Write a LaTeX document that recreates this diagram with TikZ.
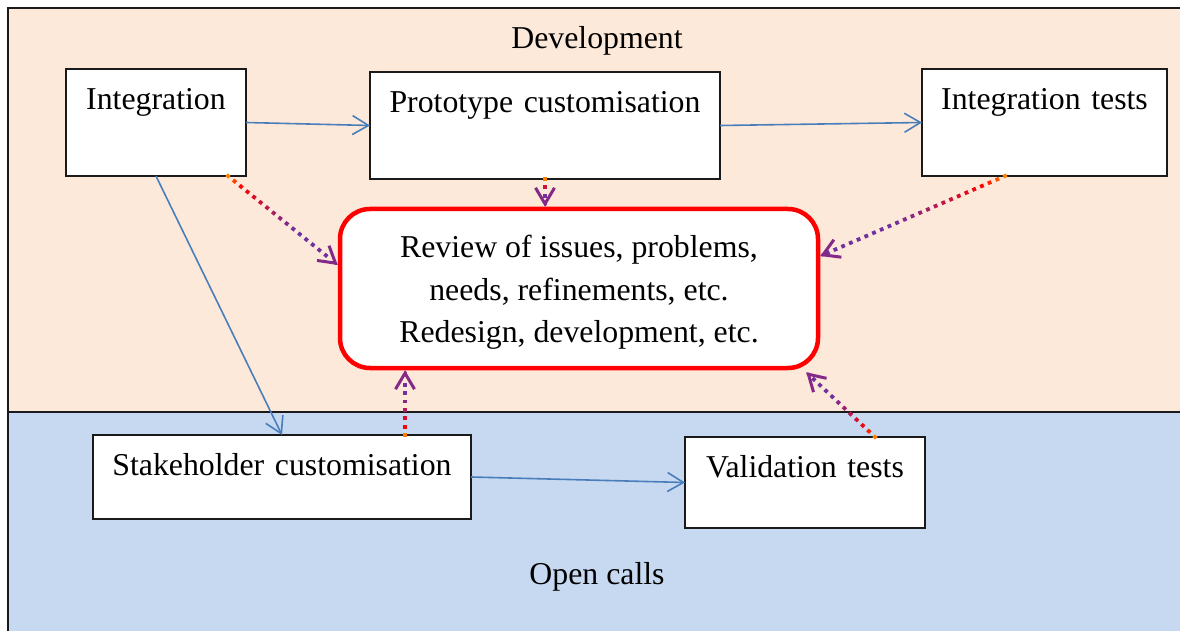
\documentclass[tikz,border=0pt]{standalone}
\usepackage{fontspec}
\setmainfont{Liberation Serif}
\usetikzlibrary{arrows.meta,calc,decorations.markings}

\definecolor{devfill}{HTML}{FDE9D9}
\definecolor{callfill}{HTML}{C6D9F1}
\definecolor{flowblue}{HTML}{4A7EBB}
\definecolor{dpurple}{HTML}{7030A0}
\definecolor{dorange}{HTML}{FF8000}
\definecolor{framec}{HTML}{1A1A1A}

\tikzset{
  txt/.style={font=\fontsize{15.9}{21.25}\selectfont},
  task/.style={txt, draw=framec, fill=white, line width=0.75pt,
    anchor=north west, inner sep=0pt, outer sep=0pt, align=center,
    text height=20.25pt},
  review/.style={txt, draw=red, fill=white, line width=2.25pt,
    rounded corners=15pt, minimum width=239pt, minimum height=79.5pt,
    inner sep=0pt, align=center, text height=57.9pt},
  flow/.style={draw=flowblue, line width=0.8pt,
    -{Straight Barb[length=8pt,width=9.5pt]}},
  % dotted feedback line whose dots fade orange -> red -> purple
  gdots/.style={
    decoration={markings,
      mark=between positions 0 and -4pt step 4.2pt with {%
        \pgfmathsetmacro\gpos{100*\pgfkeysvalueof{/pgf/decoration/mark info/distance from start}/\pgfdecoratedpathlength}%
        \pgfmathtruncatemacro\ga{min(100,max(0,\gpos*100/12))}%
        \pgfmathtruncatemacro\gb{min(100,max(0,(\gpos-12)*100/48))}%
        \ifnum\gb>0 \colorlet{dotc}{dpurple!\gb!red}\else\colorlet{dotc}{red!\ga!dorange}\fi
        \fill[dotc] (-0.95pt,-0.95pt) rectangle (0.95pt,0.95pt);
      }},
    postaction={decorate}},
  dtip/.style={draw=dpurple!85!red, line width=1.5pt, line cap=round,
    line join=round, -{Straight Barb[length=8pt,width=9.5pt]}}
}

\begin{document}
\begin{tikzpicture}[x=0.5pt,y=-0.5pt]
  \clip (0,0) rectangle (1180,631);

  % the two bands
  \fill[devfill] (8,8) rectangle (1220,412);
  \fill[callfill] (8,412) rectangle (1220,660);
  \draw[framec, line width=0.75pt] (8,660) -- (8,8) -- (1220,8);
  \draw[framec, line width=0.75pt] (8,412) -- (1220,412);

  \node[txt] (dev) at (597,41) {Development};
  \node[txt] (open) at (597,577) {Open calls};

  % activity boxes
  \node[task, text width=90pt, text depth=33.25pt] (int) at (66,69) {Integration};
  \node[task, text width=175pt, text depth=33.25pt] (proto) at (370,72) {Prototype customisation};
  \node[task, text width=122.5pt, text depth=33.25pt] (itest) at (922,69) {Integration tests};
  \node[task, text width=189pt, text depth=21.75pt] (stake) at (93,435) {Stakeholder customisation};
  \node[task, text width=120pt, text depth=25.25pt] (valid) at (685,437) {Validation tests};

  \node[review] (rev) at (579,288.5) {Review of issues, problems,\\ needs, refinements, etc.\\ Redesign, development, etc.};

  % main flow
  \draw[flow] (int.east) -- (proto.west);
  \draw[flow] (proto.east) -- (itest.west);
  \draw[flow] (int.south) -- ([xshift=94.5pt]stake.north west);
  \draw[flow] (stake.east) -- (valid.west);

  % attachment points of the feedback lines
  \coordinate (s1) at ([xshift=-9pt]int.south east);
  \coordinate (e1) at ([yshift=11.75pt]rev.west);
  \coordinate (s2) at (proto.south);
  \coordinate (e2) at (proto.south |- rev.north);
  \coordinate (s3) at ([xshift=41.5pt]itest.south west);
  \coordinate (e3) at ([yshift=16.25pt]rev.east);
  \coordinate (s4) at ([xshift=156pt]stake.north west);
  \coordinate (e4) at (s4 |- rev.south);
  \coordinate (s5) at ([xshift=95pt]valid.north west);
  \coordinate (e5) at ([xshift=-7pt,yshift=-1pt]rev.south east);

  % feedback into the review
  \foreach \s/\e in {s1/e1, s2/e2, s3/e3, s4/e4, s5/e5} {
    \path[gdots] (\s) -- (\e);
    \draw[dtip] ($(\e)!1pt!(\s)$) -- (\e);
  }
\end{tikzpicture}
\end{document}
